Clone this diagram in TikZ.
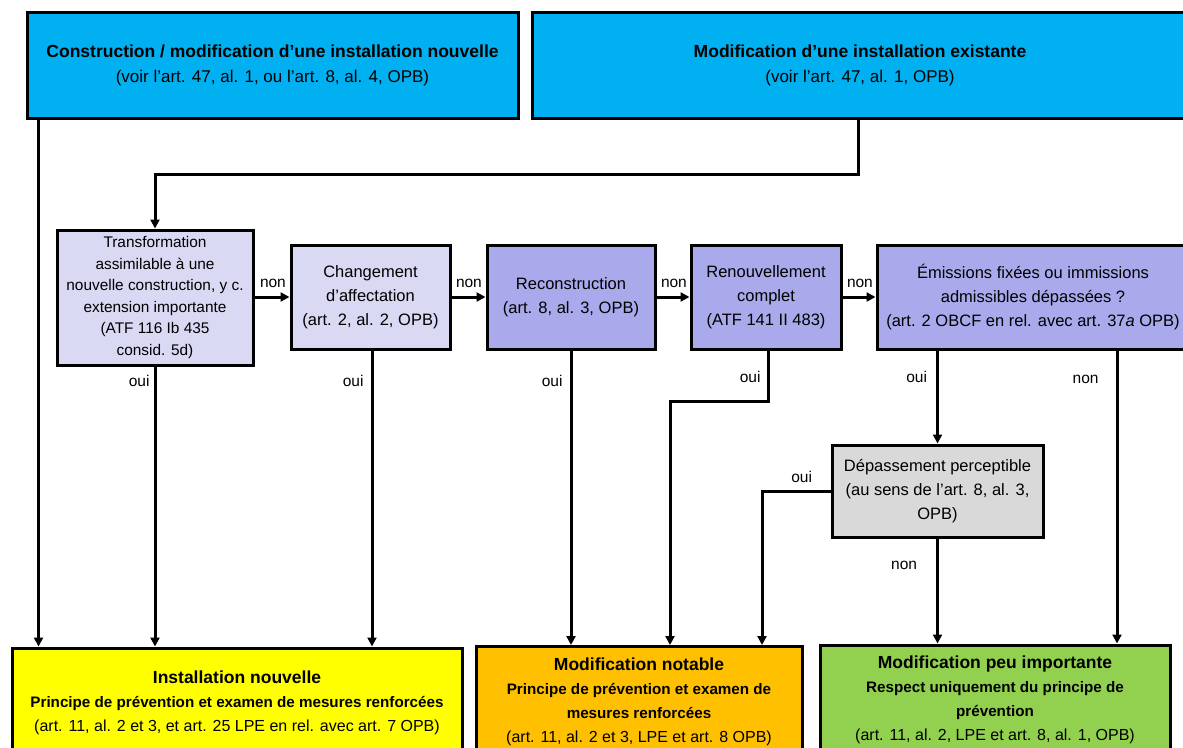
\documentclass[tikz,border=0pt]{standalone}
\usepackage{fontspec}
\setmainfont{Liberation Sans}
\usepackage{xcolor}
\usetikzlibrary{arrows.meta,positioning}
\definecolor{skyblue}{HTML}{00B0F0}
\definecolor{lavlight}{HTML}{D9D9F4}
\definecolor{lavmid}{HTML}{A9A9EB}
\definecolor{greybox}{HTML}{D9D9D9}
\definecolor{yellowbox}{HTML}{FFFF00}
\definecolor{orangebox}{HTML}{FFC000}
\definecolor{greenbox}{HTML}{92D050}
\tikzset{
  topbox/.style={draw, line width=3pt, fill=skyblue, align=center, minimum height=106, inner sep=2pt, font=\fontsize{17}{25}\selectfont},
  qbox/.style={draw, line width=3pt, fill=lavmid, align=center, minimum height=104, inner sep=2pt, font=\fontsize{16.5}{24}\selectfont},
  resbox/.style={draw, line width=3pt, align=center, minimum height=110, inner sep=2pt, font=\fontsize{16}{24}\selectfont},
  lbl/.style={font=\fontsize{15.5}{18}\selectfont, inner sep=1pt},
  arr/.style={-{Triangle[length=9pt,width=9pt]}, line width=3pt}
}
\begin{document}
\begin{tikzpicture}[x=1pt,y=-1pt]
\useasboundingbox (0,0) rectangle (1183,747);
\clip (0,0) rectangle (1183,747);

\node[topbox,minimum width=491] (new) at (272.5,65) {{\bfseries\fontsize{17.5}{25}\selectfont Construction / modification d’une installation nouvelle}\\(voir l’art. 47, al. 1, ou l’art. 8, al. 4, OPB)};
\node[topbox,minimum width=656] (exist) at (860,65) {{\bfseries\fontsize{17.5}{25}\selectfont Modification d’une installation existante}\\(voir l’art. 47, al. 1, OPB)};

\node[qbox,fill=lavlight,minimum width=196,minimum height=135,font=\fontsize{15.4}{21.5}\selectfont] (transf) at (155,297.5) {Transformation\\assimilable à une\\nouvelle construction, y c.\\extension importante\\(ATF 116 Ib 435\\consid. 5d)};
\node[qbox,fill=lavlight,minimum width=159] (chgt) at (370.5,297) {Changement\\d’affectation\\(art. 2, al. 2, OPB)};
\node[qbox,minimum width=168] (recon) at (571,297) {Reconstruction\\(art. 8, al. 3, OPB)};
\node[qbox,minimum width=150] (renouv) at (766,297) {Renouvellement\\complet\\(ATF 141 II 483)};
\node[qbox,minimum width=312] (emis) at (1033,297) {Émissions fixées ou immissions\\admissibles dépassées ?\\(art. 2 OBCF en rel. avec art. 37\textit{a} OPB)};
\node[qbox,fill=greybox,minimum width=211,minimum height=92] (depass) at (937.5,491) {Dépassement perceptible\\(au sens de l’art. 8, al. 3,\\OPB)};

\node[resbox,fill=yellowbox,minimum width=450] (nouv) at (237,703) {{\bfseries\fontsize{17.5}{24}\selectfont Installation nouvelle}\\{\bfseries\fontsize{15.2}{24}\selectfont Principe de prévention et examen de mesures renforcées}\\(art. 11, al. 2 et 3, et art. 25 LPE en rel. avec art. 7 OPB)};
\node[resbox,fill=orangebox,minimum width=326] (notable) at (639,701.5) {{\bfseries\fontsize{17.5}{24}\selectfont Modification notable}\\{\bfseries\fontsize{15.2}{24}\selectfont Principe de prévention et examen de}\\{\bfseries\fontsize{15.2}{24}\selectfont mesures renforcées}\\(art. 11, al. 2 et 3, LPE et art. 8 OPB)};
\node[resbox,fill=greenbox,minimum width=350] (peu) at (995,700) {{\bfseries\fontsize{17.5}{24}\selectfont Modification peu importante}\\{\bfseries\fontsize{15.2}{24}\selectfont Respect uniquement du principe de}\\{\bfseries\fontsize{15.2}{24}\selectfont prévention}\\(art. 11, al. 2, LPE et art. 8, al. 1, OPB)};

\draw[arr] ([xshift=13]new.south west) -- ([xshift=13]new.south west |- nouv.north);
\draw[arr] ([xshift=-2]exist.south) -- ++(0,55) -| (transf.north);

\draw[arr] (transf.east |- chgt.west) node[lbl,anchor=south west,xshift=3,yshift=7] {non} -- (chgt.west);
\draw[arr] (chgt.east) node[lbl,anchor=south west,xshift=2,yshift=7] {non} -- (recon.west);
\draw[arr] (recon.east) node[lbl,anchor=south west,xshift=2,yshift=7] {non} -- (renouv.west);
\draw[arr] (renouv.east) node[lbl,anchor=south west,xshift=2,yshift=7] {non} -- (emis.west);

\draw[arr] (transf.south) node[lbl,anchor=north east,xshift=-3,yshift=-6] {oui} -- (transf.south |- nouv.north);
\draw[arr] ([xshift=1.5]chgt.south) node[lbl,anchor=north east,xshift=-6,yshift=-22] {oui} -- ([xshift=1.5]chgt.south |- nouv.north);
\draw[arr] (recon.south) node[lbl,anchor=north east,xshift=-6,yshift=-22] {oui} -- (recon.south |- notable.north);
\draw[arr] ([xshift=2]renouv.south) node[lbl,anchor=north east,xshift=-5,yshift=-18] {oui} -- ++(0,51) -| ([xshift=31]notable.north);
\draw[arr] (emis.south -| depass.north) node[lbl,anchor=north east,xshift=-8,yshift=-18] {oui} -- (depass.north);
\draw[arr] ([xshift=84]emis.south) node[lbl,anchor=north east,xshift=-16,yshift=-22] {non} -- ([xshift=84]emis.south |- peu.north);

\draw[arr] (depass.west) node[lbl,anchor=south east,xshift=-16,yshift=6] {oui} -| ([xshift=123]notable.north);
\draw[arr] (depass.south) node[lbl,anchor=north east,xshift=-18,yshift=-20] {non} -- (depass.south |- peu.north);
\end{tikzpicture}
\end{document}
